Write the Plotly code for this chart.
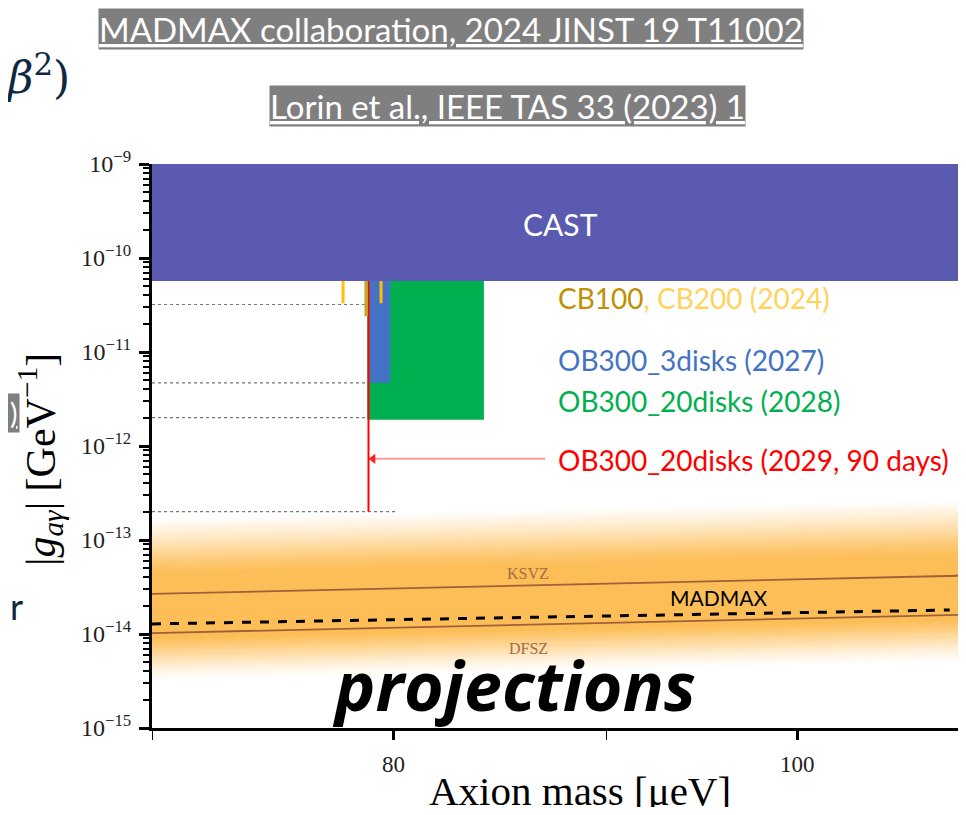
import numpy as np
import plotly.graph_objects as go

# ---------------- data ----------------
x_range_mass = [70, 109.3]
y_range_exp = [-15, -9]

cast_g = [5.7e-11, 1e-9]

cb200_masses = [77.8, 79.45]
cb200_g = [3.3e-11, 5.7e-11]
cb100_mass = 78.8
cb100_g = [2.4e-11, 5.7e-11]

ob3_mass = [78.95, 79.85]
ob3_g = [4.7e-12, 5.7e-11]
ob20_mass = [78.85, 84.1]
ob20_g = [1.9e-12, 5.7e-11]
ob20_90d_mass = 78.9
ob20_90d_g = [2.0e-13, 5.7e-11]

dotted_levels = [3.2e-11, 4.7e-12, 2.0e-12, 2.0e-13]
dotted_mass = [70, 80.2]

arrow_mass = [79.1, 87.0]
arrow_g = 7.3e-13

line_mass = [70, 109.3]
ksvz_coef = 3.81e-16   # g = coef * m
dfsz_coef = 1.46e-16
madmax_mass = [70, 108.8]
madmax_g = [1.28e-14, 1.80e-14]

# QCD band colour profile: offset (decades below KSVZ) vs strength
band_offset = [-0.80, -0.58, -0.32, -0.21, 0.48, 0.64, 0.80, 0.92]
band_strength = [0.0, 0.35, 0.85, 1.0, 1.0, 0.6, 0.2, 0.0]

y_tick_exps = [-15, -14, -13, -12, -11, -10, -9]
x_tick_vals = [80, 100]
x_minor_vals = [70, 90]

# ---------------- figure ----------------
# page body has an 8px margin; figure sized so the page does not scroll
OFF = 8
W, H = 966 - 2 * OFF, 815 - 2 * OFF
# plot area in screen pixels
L, T, R, B = 152, 164, 958, 728


def px_x(x):
    return (x - L) / (R - L)


def px_y(y):
    return (B - y) / (B - T)


fig = go.Figure()


def rect(xs, ys, color, name):
    fig.add_trace(go.Scatter(
        x=[xs[0], xs[1], xs[1], xs[0], xs[0]],
        y=[ys[0], ys[0], ys[1], ys[1], ys[0]],
        mode="lines", fill="toself", fillcolor=color,
        line=dict(width=0, color=color), hoverinfo="skip", name=name,
        showlegend=False))


# QCD band as gradient strips
core = np.array([253, 190, 88])
step = 0.03
offs = np.arange(band_offset[0], band_offset[-1], step)
lm = np.array(line_mass, dtype=float)
for o in offs:
    t = np.interp(o + step / 2, band_offset, band_strength)
    c = 255 - (255 - core) * t
    col = "rgb(%d,%d,%d)" % tuple(np.round(c))
    g_top = ksvz_coef * lm * 10 ** (-o)
    g_bot = ksvz_coef * lm * 10 ** (-(o + step))
    fig.add_trace(go.Scatter(
        x=[lm[0], lm[1], lm[1], lm[0], lm[0]],
        y=[g_top[0], g_top[1], g_bot[1], g_bot[0], g_top[0]],
        mode="lines", fill="toself", fillcolor=col,
        line=dict(width=1, color=col), hoverinfo="skip", showlegend=False))

# KSVZ / DFSZ lines
for coef in [ksvz_coef, dfsz_coef]:
    fig.add_trace(go.Scatter(x=line_mass, y=[coef * m for m in line_mass],
                             mode="lines", line=dict(color="#A0603A", width=1.8),
                             hoverinfo="skip", showlegend=False))
# MADMAX dashed
fig.add_trace(go.Scatter(x=madmax_mass, y=madmax_g, mode="lines",
                         line=dict(color="black", width=3, dash="dash"),
                         hoverinfo="skip", showlegend=False))

# dotted reference lines
for lv in dotted_levels:
    fig.add_trace(go.Scatter(x=dotted_mass, y=[lv, lv], mode="lines",
                             line=dict(color="#777777", width=1.2, dash="dot"),
                             hoverinfo="skip", showlegend=False))

# CAST
rect(x_range_mass, cast_g, "#5A5AB0", "CAST")
# OB300 20 disks (green)
rect(ob20_mass, ob20_g, "#00B050", "OB300_20disks")
# OB300 3 disks (blue)
rect(ob3_mass, ob3_g, "#4472C4", "OB300_3disks")
# red 90 days line
fig.add_trace(go.Scatter(x=[ob20_90d_mass, ob20_90d_mass], y=ob20_90d_g, mode="lines",
                         line=dict(color="#FF0000", width=2), hoverinfo="skip",
                         showlegend=False))
# CB100
fig.add_trace(go.Scatter(x=[cb100_mass, cb100_mass], y=cb100_g, mode="lines",
                         line=dict(color="#C9A227", width=3.5), hoverinfo="skip",
                         showlegend=False))
# CB200
for m in cb200_masses:
    fig.add_trace(go.Scatter(x=[m, m], y=cb200_g, mode="lines",
                             line=dict(color="#FFC000", width=3), hoverinfo="skip",
                             showlegend=False))
# arrow
fig.add_trace(go.Scatter(x=arrow_mass, y=[arrow_g, arrow_g], mode="lines",
                         line=dict(color="#FF9A9A", width=2), hoverinfo="skip",
                         showlegend=False))
fig.add_trace(go.Scatter(x=[arrow_mass[0]], y=[arrow_g], mode="markers",
                         marker=dict(symbol="triangle-left", size=9, color="#FF2020"),
                         hoverinfo="skip", showlegend=False))

serif = "Liberation Serif"
sans = "Lato"
navy = "#0E2841"

ann = []


def add_text(x, y, text, size, color, family=sans, xanchor="center", **kw):
    ann.append(dict(x=px_x(x), y=px_y(y), xref="paper", yref="paper", text=text,
                    showarrow=False, xanchor=xanchor, yanchor="middle",
                    font=dict(size=size, color=color, family=family), **kw))


add_text(560, 224, "CAST", 30, "white")
add_text(556, 298, "<span style='color:#BF9000'>CB100</span>"
         "<span style='color:#FFD35C'>, CB200 (2024)</span>", 28, "#BF9000", xanchor="left")
add_text(556, 360, "OB300_3disks (2027)", 28, "#4472C4", xanchor="left")
add_text(556, 401, "OB300_20disks (2028)", 28, "#00B050", xanchor="left")
add_text(556, 460, "OB300_20disks (2029, 90 days)", 28, "#FF0000", xanchor="left")
add_text(718, 597, "MADMAX", 21, "black")
add_text(528, 573, "KSVZ", 16, "#A86A45", family=serif)
add_text(528, 648, "DFSZ", 16, "#A86A45", family=serif)
add_text(514, 684, "<b><i>projections</i></b>", 68, "black", family="Open Sans")

# top references
add_text(451, 29, "<u>MADMAX collaboration, 2024 JINST 19 T11002</u>", 33, "white",
         bgcolor="#7F7F7F", borderpad=0)
add_text(507, 106, "<u>Lorin et al., IEEE TAS 33 (2023) 1</u>", 33, "white",
         bgcolor="#7F7F7F", borderpad=0)
add_text(4, 74, "<i>β</i><sup>2</sup>)", 44, navy, family="DejaVu Serif", xanchor="left")
add_text(20, 413, "<u>)</u>", 28, "white", xanchor="right", bgcolor="#7F7F7F", borderpad=2)
add_text(8, 606, "r", 36, navy, xanchor="left")

# axis titles
add_text(40, 460, "|<i>g</i><sub><i>aγ</i></sub>| [GeV<sup>−1</sup>]", 42, "black",
         family=serif, textangle=-90)
add_text(580, 791, "Axion mass [μeV]", 41, "black", family=serif)

fig.update_layout(
    width=W, height=H,
    margin=dict(l=L - OFF, r=W - (R - OFF), t=T - OFF, b=H - (B - OFF), pad=0),
    paper_bgcolor="white", plot_bgcolor="white",
    showlegend=False,
    annotations=ann,
    xaxis=dict(type="log", range=[np.log10(x_range_mass[0]), np.log10(x_range_mass[1])],
               tickvals=x_tick_vals, ticktext=[str(v) for v in x_tick_vals],
               ticks="outside", ticklen=9, tickwidth=2.5, tickcolor="black",
               minor=dict(tickvals=x_minor_vals, ticks="outside", ticklen=9, tickwidth=1,
                          tickcolor="black"),
               showline=True, linecolor="black", linewidth=3, showgrid=False,
               zeroline=False, ticklabelstandoff=4,
               tickfont=dict(family=serif, size=23, color="#222")),
    yaxis=dict(type="log", range=y_range_exp,
               tickvals=[10.0 ** e for e in y_tick_exps],
               ticktext=["10<sup>−%d</sup>" % (-e) for e in y_tick_exps],
               ticks="outside", ticklen=10, tickwidth=2.5, tickcolor="black",
               minor=dict(tickvals=[k * 10.0 ** e for e in y_tick_exps[:-1] for k in range(2, 10)],
                          ticks="outside", ticklen=6, tickwidth=1.5, tickcolor="black"),
               showline=True, linecolor="black", linewidth=3, showgrid=False,
               zeroline=False, ticklabelstandoff=3,
               tickfont=dict(family=serif, size=24, color="#222")),
)

fig.write_html("out.html")
